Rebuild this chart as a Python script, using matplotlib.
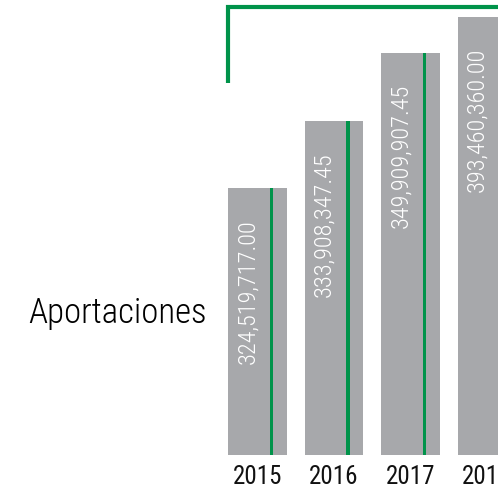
import matplotlib
matplotlib.use("Agg")
import matplotlib.pyplot as plt

years = ["2015", "2016", "2017", "2018"]
amounts = [324519717.00, 333908347.45, 349909907.45, 393460360.00]
# bar heights as drawn in the picture (the chart does not start at zero)
heights = [267, 334, 402, 438]

narrow = ["Roboto Condensed", "DejaVu Sans"]
gray = "#A7A8AB"
green = "#00934A"

fig = plt.figure(figsize=(4.98, 4.95), dpi=100)
ax = fig.add_axes([0, 0, 1, 1])
ax.set_xlim(-3.366, 3.144)
ax.set_ylim(-40, 455)
ax.axis("off")

x = list(range(len(years)))
ax.bar(x, heights, width=0.77, color=gray, zorder=1)
ax.bar([i + 0.183 for i in x], heights, width=0.04, color=green, zorder=2)

for i, (yr, amt, h) in enumerate(zip(years, amounts, heights)):
    ax.text(i - 0.13, h - 31, f"{amt:,.2f}", rotation=90, ha="center", va="top",
            color="white", fontsize=17.5, family=narrow, weight=300, zorder=3)
    ax.text(i, -22, yr, ha="center", va="center", color="#111111",
            fontsize=18, family=narrow, weight=400)

# bracket over the bars
ax.plot([-0.38, -0.38, 3.2], [372, 448, 448], color=green, lw=3,
        solid_capstyle="butt", solid_joinstyle="miter", clip_on=False)

ax.text(-1.83, 132, "Aportaciones", ha="center", va="baseline",
        color="black", fontsize=25, family=narrow, weight=300)

fig.savefig("out.png", dpi=100)
